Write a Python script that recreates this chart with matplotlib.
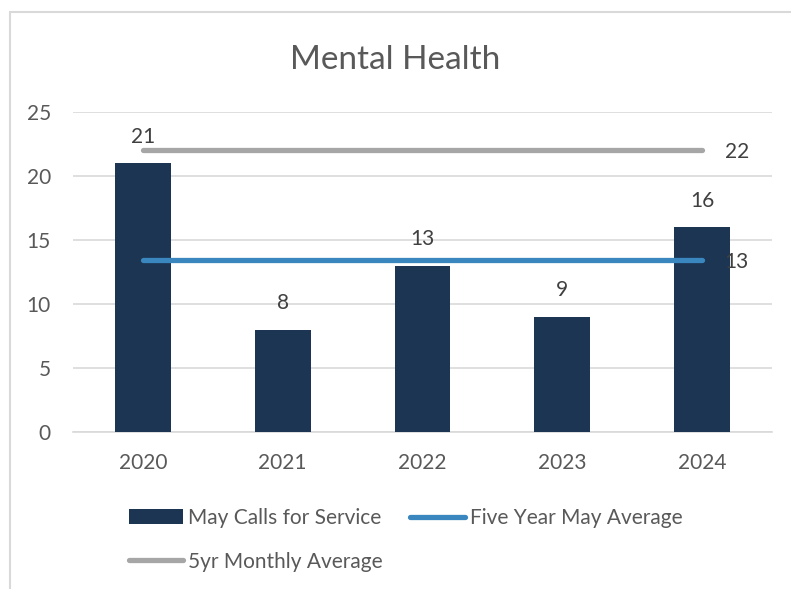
import matplotlib
matplotlib.use("Agg")
from matplotlib import pyplot as plt
from matplotlib.patches import Rectangle

years = ["2020", "2021", "2022", "2023", "2024"]
may_calls = [21, 8, 13, 9, 16]
five_year_may_avg = [13.4, 13.4, 13.4, 13.4, 13.4]
monthly_avg_5yr = [22, 22, 22, 22, 22]
y_ticks = [0, 5, 10, 15, 20, 25]

text_color = "#595959"
bar_color = "#1B3553"
blue = "#3A87BF"
gray = "#A6A6A6"
grid_color = "#D9D9D9"

plt.rcParams["font.family"] = ["Lato", "DejaVu Sans"]

fig = plt.figure(figsize=(7.91, 5.89), dpi=100)
ax = fig.add_axes([0.0923, 0.2666, 0.8837, 0.5432])

# outer chart frame
fig.patches.append(Rectangle((10 / 791, -0.05), 1.0, 1 - 12 / 589 + 0.05,
                             transform=fig.transFigure, fill=False,
                             edgecolor=grid_color, linewidth=1.5))

x = list(range(len(years)))
bars = ax.bar(x, may_calls, width=0.4, color=bar_color, zorder=3,
              label="May Calls for Service")
l1, = ax.plot(x, five_year_may_avg, color=blue, linewidth=3.8,
              solid_capstyle="round", zorder=4, label="Five Year May Average")
l2, = ax.plot(x, monthly_avg_5yr, color=gray, linewidth=3.8,
              solid_capstyle="round", zorder=4, label="5yr Monthly Average")

# data labels
for xi, v in zip(x, may_calls):
    ax.annotate(str(v), (xi, v), xytext=(0, 19), textcoords="offset points",
                ha="center", va="center", fontsize=15, color="#404040")
ax.annotate(f"{five_year_may_avg[-1]:.0f}", (x[-1], five_year_may_avg[-1]),
            xytext=(25, -1), textcoords="offset points", ha="center",
            va="center", fontsize=15, color="#404040", zorder=5)
ax.annotate(f"{monthly_avg_5yr[-1]:.0f}", (x[-1], monthly_avg_5yr[-1]),
            xytext=(25, -1), textcoords="offset points", ha="center",
            va="center", fontsize=15, color="#404040")

ax.set_xlim(-0.5, len(years) - 0.5)
ax.set_ylim(0, 25)
ax.set_yticks(y_ticks)
ax.set_xticks(x)
ax.set_xticklabels(years)
ax.tick_params(axis="both", length=0, labelsize=15, colors=text_color)
ax.tick_params(axis="y", pad=16)
ax.tick_params(axis="x", pad=15)
ax.grid(axis="y", color=grid_color, linewidth=1.2, zorder=0)
for s in ["top", "right", "left"]:
    ax.spines[s].set_visible(False)
ax.spines["bottom"].set_color(grid_color)
ax.spines["bottom"].set_linewidth(1.2)

fig.text(0.5, 1 - 60 / 589, "Mental Health", ha="center", va="center",
         fontsize=24, color=text_color)

leg = fig.legend([bars, l2, l1],
                 ["May Calls for Service", "5yr Monthly Average",
                  "Five Year May Average"],
                 ncol=2, loc="upper left", bbox_to_anchor=(0.152, 0.152),
                 frameon=False, fontsize=15, labelcolor=text_color,
                 handlelength=2.6, handletextpad=0.25, columnspacing=1.34,
                 labelspacing=1.15, borderaxespad=0)

fig.savefig("out.png", dpi=100)
